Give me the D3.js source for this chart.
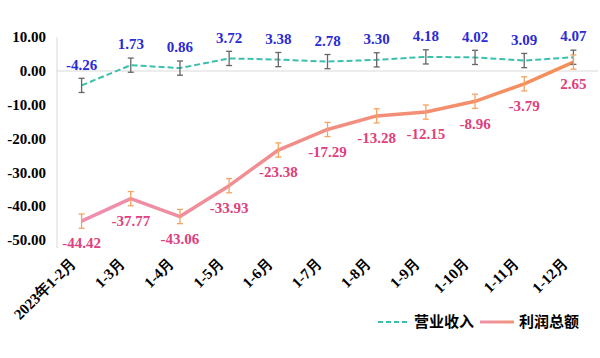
<!DOCTYPE html>
<html><head><meta charset="utf-8">
<script src="https://cdn.jsdelivr.net/npm/d3@7"></script>
<style>body{margin:0;background:#fff}svg{display:block}</style>
</head><body>
<svg id="c" width="600" height="358"></svg>
<script>
const categories = ["2023年1-2月","1-3月","1-4月","1-5月","1-6月","1-7月","1-8月","1-9月","1-10月","1-11月","1-12月"];
const revenue = [-4.26,1.73,0.86,3.72,3.38,2.78,3.30,4.18,4.02,3.09,4.07];
const profit = [-44.42,-37.77,-43.06,-33.93,-23.38,-17.29,-13.28,-12.15,-8.96,-3.79,2.65];
const yTicks = [10,0,-10,-20,-30,-40,-50];
const errorAmount = 2.1;
const seriesNames = ["营业收入","利润总额"];

const svg = d3.select("#c");
const x = d3.scaleBand().domain(categories).range([57,598]);
const y = d3.scaleLinear().domain([-50,10]).range([240,37.2]);
const cx = d => x(d) + x.bandwidth()/2;
const fmt = d => d.toFixed(2);
const serif = "'Liberation Serif','Times New Roman',serif";
const sans = "'Noto Sans CJK SC','Noto Sans',sans-serif";

const defs = svg.append("defs");
const grad = defs.append("linearGradient").attr("id","pg").attr("gradientUnits","userSpaceOnUse")
  .attr("x1",cx(categories[0])).attr("x2",cx(categories[categories.length-1])).attr("y1",0).attr("y2",0);
grad.append("stop").attr("offset","0%").attr("stop-color","#ee8db0");
grad.append("stop").attr("offset","100%").attr("stop-color","#f58f57");
const lg = defs.append("linearGradient").attr("id","lg");
lg.append("stop").attr("offset","0%").attr("stop-color","#ee90a8");
lg.append("stop").attr("offset","100%").attr("stop-color","#f0957a");

svg.append("line").attr("x1",57).attr("x2",57).attr("y1",y(10)).attr("y2",y(-50)+8).attr("stroke","#d9d9d9");
svg.append("line").attr("x1",57).attr("x2",598).attr("y1",y(0)).attr("y2",y(0)).attr("stroke","#d9d9d9");

svg.append("g").selectAll("text").data(yTicks).join("text")
  .attr("x",46).attr("y",d=>y(d)).attr("dy","0.35em").attr("text-anchor","end")
  .attr("font-family",serif).attr("font-weight","bold").attr("font-size",15).attr("fill","#000")
  .text(fmt);

svg.append("g").selectAll("text").data(categories).join("text")
  .attr("transform",d=>`translate(${cx(d)-5},${264}) rotate(-45)`)
  .attr("text-anchor","end")
  .attr("font-family",serif).attr("font-weight","bold").attr("font-size",15).attr("fill","#000")
  .text(d=>d);

const lineGen = d3.line().x((d,i)=>cx(categories[i])).y(d=>y(d));
svg.append("path").datum(profit).attr("d",lineGen).attr("fill","none")
  .attr("stroke","url(#pg)").attr("stroke-width",3.5).attr("stroke-linejoin","round");
svg.append("path").datum(revenue).attr("d",lineGen).attr("fill","none")
  .attr("stroke","#3bbfae").attr("stroke-width",2).attr("stroke-dasharray","6,3");

function errBars(data, color){
  const g = svg.append("g").attr("stroke",color).attr("stroke-width",1.3);
  data.forEach((v,i)=>{
    const px = cx(categories[i]);
    g.append("line").attr("x1",px).attr("x2",px).attr("y1",y(v-errorAmount)).attr("y2",y(v+errorAmount));
    g.append("line").attr("x1",px-3).attr("x2",px+3).attr("y1",y(v-errorAmount)).attr("y2",y(v-errorAmount));
    g.append("line").attr("x1",px-3).attr("x2",px+3).attr("y1",y(v+errorAmount)).attr("y2",y(v+errorAmount));
  });
}
errBars(revenue,"#666");
errBars(profit,"#f4a460");

svg.append("g").selectAll("text").data(revenue).join("text")
  .attr("x",(d,i)=>cx(categories[i])).attr("y",d=>y(d)-21).attr("dy","0.35em").attr("text-anchor","middle")
  .attr("font-family",serif).attr("font-weight","bold").attr("font-size",15).attr("fill","#2a2ad6")
  .text(fmt);
svg.append("g").selectAll("text").data(profit).join("text")
  .attr("x",(d,i)=>cx(categories[i])).attr("y",d=>y(d)+22).attr("dy","0.35em").attr("text-anchor","middle")
  .attr("font-family",serif).attr("font-weight","bold").attr("font-size",15).attr("fill","#e0407c")
  .text(fmt);

const leg = svg.append("g");
leg.append("line").attr("x1",378).attr("x2",408).attr("y1",322).attr("y2",322)
  .attr("stroke","#3bbfae").attr("stroke-width",2).attr("stroke-dasharray","5,3");
leg.append("text").attr("x",414).attr("y",322).attr("dy","0.35em").attr("font-family",sans)
  .attr("font-weight","bold").attr("font-size",15).attr("fill","#000").text(seriesNames[0]);
leg.append("rect").attr("x",480).attr("y",320.5).attr("width",34).attr("height",3).attr("fill","url(#lg)");
leg.append("text").attr("x",519).attr("y",322).attr("dy","0.35em").attr("font-family",sans)
  .attr("font-weight","bold").attr("font-size",15).attr("fill","#000").text(seriesNames[1]);
</script>
</body></html>
